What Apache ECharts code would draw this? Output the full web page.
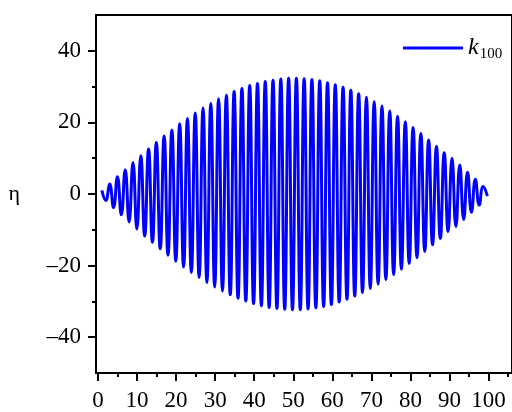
<!DOCTYPE html>
<html>
<head>
<meta charset="utf-8">
<script src="https://cdn.jsdelivr.net/npm/echarts@6/dist/echarts.min.js"></script>
<style>html,body{margin:0;padding:0;background:#fff;}#c{width:512px;height:412px;}</style>
</head>
<body>
<div id="c"></div>
<script>
// time positions of the oscillation extrema
const tValues = [1.00,2.00,2.99,3.99,4.98,5.98,6.98,7.97,8.97,9.96,10.96,11.96,12.95,13.95,14.94,15.94,16.94,17.93,18.93,19.92,
  20.92,21.92,22.91,23.91,24.90,25.90,26.90,27.89,28.89,29.88,30.88,31.88,32.87,33.87,34.86,35.86,36.86,37.85,38.85,39.84,
  40.84,41.84,42.83,43.83,44.82,45.82,46.82,47.81,48.81,49.80,50.80,51.80,52.79,53.79,54.78,55.78,56.78,57.77,58.77,59.76,
  60.76,61.76,62.75,63.75,64.74,65.74,66.74,67.73,68.73,69.72,70.72,71.72,72.71,73.71,74.70,75.70,76.70,77.69,78.69,79.68,
  80.68,81.68,82.67,83.67,84.66,85.66,86.66,87.65,88.65,89.64,90.64,91.64,92.63,93.63,94.62,95.62,96.62,97.61,98.61,99.70];
// eta values at those positions
const etaValues = [1.0,-1.8,2.8,-3.8,4.8,-5.8,6.8,-7.8,8.8,-9.8,10.7,-11.7,12.6,-13.5,14.4,-15.3,16.2,-17.1,17.9,-18.8,
  19.6,-20.4,21.1,-21.9,22.6,-23.3,24.0,-24.7,25.3,-26.0,26.6,-27.1,27.6,-28.1,28.6,-29.1,29.5,-29.9,30.3,-30.6,
  30.9,-31.2,31.4,-31.7,31.8,-32.0,32.1,-32.2,32.3,-32.3,32.3,-32.3,32.2,-32.1,32.0,-31.8,31.6,-31.4,31.1,-30.9,
  30.5,-30.2,29.8,-29.4,29.0,-28.5,28.0,-27.5,27.0,-26.4,25.8,-25.2,24.6,-23.9,23.2,-22.5,21.7,-21.0,20.2,-19.4,
  18.6,-17.8,16.9,-16.0,15.1,-14.2,13.3,-12.4,11.5,-10.5,10.0,-9.1,8.1,-7.1,6.1,-5.1,4.1,-3.1,2.1,-0.6];
const seriesName = 'k100';
const xMajorTicks = [0,10,20,30,40,50,60,70,80,90,100];
const xMinorTicks = [5,15,25,35,45,55,65,75,85,95,105];
const yMajorTicks = [-40,-20,0,20,40];
const yMinorTicks = [-30,-10,10,30];

const data = tValues.map((t, i) => [t, etaValues[i]]);
const font = 'Liberation Serif';
const chart = echarts.init(document.getElementById('c'));
chart.setOption({
  animation: false,
  backgroundColor: '#fff',
  grid: { left: 96, top: 15, right: -3, bottom: 39, show: true, borderColor: '#000', borderWidth: 2, backgroundColor: 'transparent' },
  legend: {
    data: [seriesName],
    left: 398, top: 31,
    icon: 'rect', itemWidth: 60, itemHeight: 3, itemGap: 6,
    formatter: () => '{k|k}{s|100}',
    textStyle: {
      rich: {
        k: { fontFamily: font, fontStyle: 'italic', fontSize: 24, color: '#000', lineHeight: 28 },
        s: { fontFamily: font, fontSize: 15, color: '#000', lineHeight: 28, verticalAlign: 'bottom', padding: [10,0,0,1] }
      }
    }
  },
  xAxis: [
    { type: 'value', min: -0.5, max: 106, position: 'bottom',
      axisLine: { show: true, onZero: false, lineStyle: { color: '#000', width: 2 } },
      axisTick: { show: true, customValues: xMajorTicks, length: 8, lineStyle: { color: '#000', width: 2 } },
      axisLabel: { customValues: xMajorTicks, margin: 16, fontFamily: font, fontSize: 23, color: '#000' },
      splitLine: { show: false } },
    { type: 'value', min: -0.5, max: 106, position: 'bottom',
      axisLine: { show: false, onZero: false },
      axisTick: { show: true, customValues: xMinorTicks, length: 4, lineStyle: { color: '#000', width: 2 } },
      axisLabel: { show: false }, splitLine: { show: false } }
  ],
  yAxis: [
    { type: 'value', min: -50, max: 50, position: 'left',
      name: 'η', nameLocation: 'middle', nameRotate: 0, nameGap: 76,
      nameTextStyle: { fontFamily: font, fontSize: 22, color: '#000' },
      axisLine: { show: true, onZero: false, lineStyle: { color: '#000', width: 2 } },
      axisTick: { show: true, customValues: yMajorTicks, length: 8, lineStyle: { color: '#000', width: 2 } },
      axisLabel: { customValues: yMajorTicks, margin: 15, fontFamily: font, fontSize: 23, color: '#000',
        formatter: v => v < 0 ? '\u2013' + Math.abs(v) : String(v) },
      splitLine: { show: false } },
    { type: 'value', min: -50, max: 50, position: 'left',
      axisLine: { show: false, onZero: false },
      axisTick: { show: true, customValues: yMinorTicks, length: 4, lineStyle: { color: '#000', width: 2 } },
      axisLabel: { show: false }, splitLine: { show: false } }
  ],
  series: [{
    name: seriesName, type: 'line', data: data, xAxisIndex: 0, yAxisIndex: 0,
    showSymbol: false, symbol: 'none', smooth: 0.5,
    lineStyle: { color: '#0000ff', width: 3 }, itemStyle: { color: '#0000ff' }
  }]
});
</script>
</body>
</html>
